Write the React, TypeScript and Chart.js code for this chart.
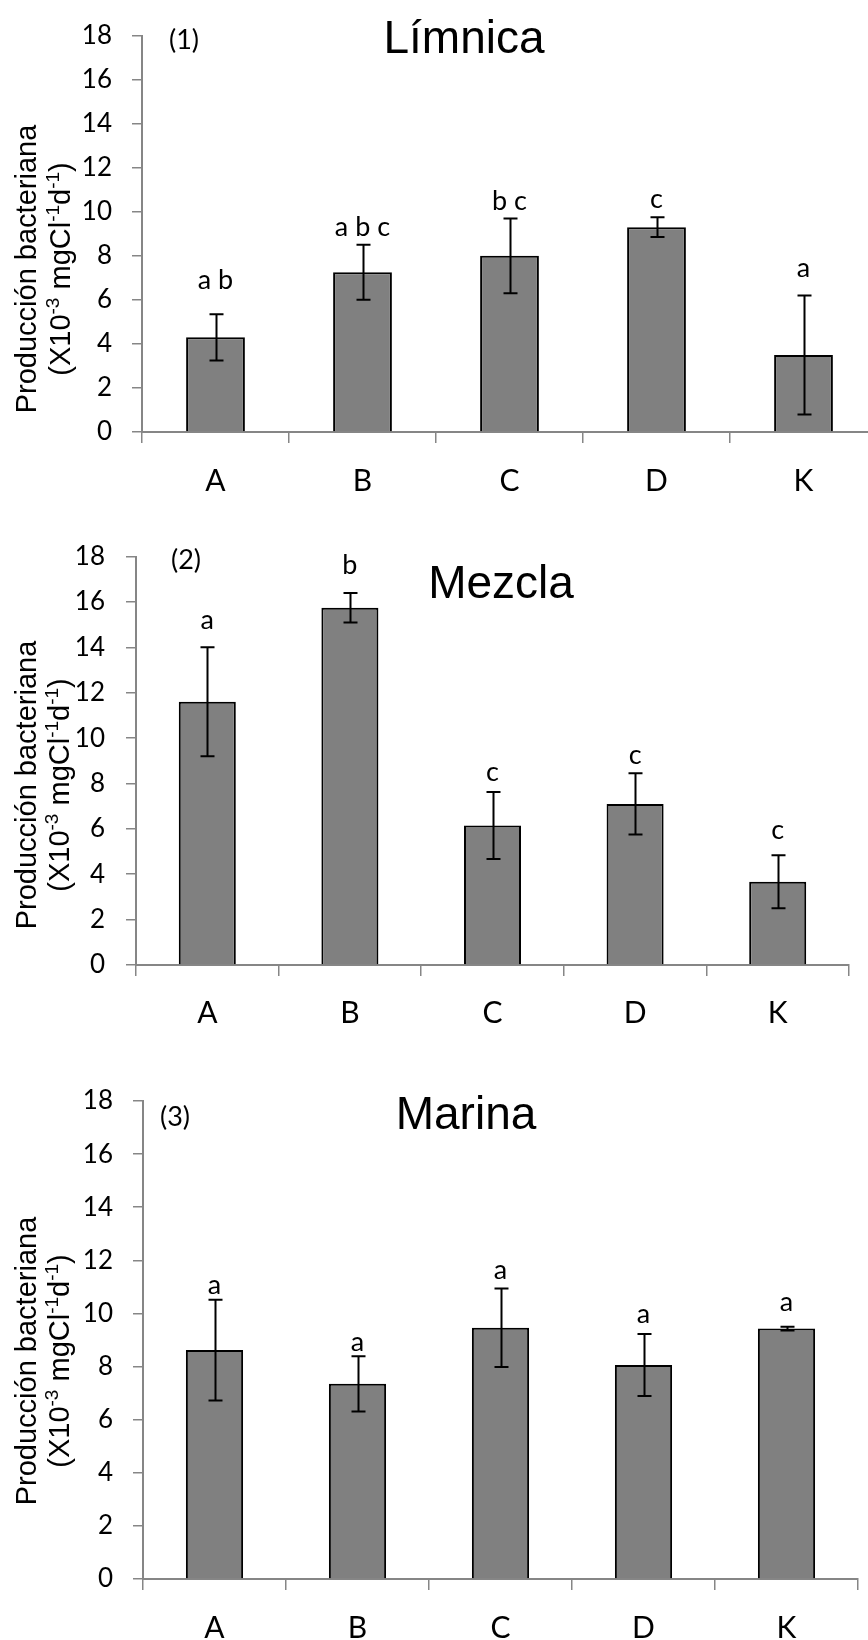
import { useEffect, useRef } from "react";
import { Chart, registerables } from "chart.js";

Chart.register(...registerables);

// ---- data ----
const categories = ["A", "B", "C", "D", "K"];
const yMin = 0;
const yMax = 18;
const yStep = 2;

const limnicaMeans = [4.3, 7.25, 8.0, 9.3, 3.5];
const limnicaErrors = [1.05, 1.25, 1.7, 0.45, 2.7];
const limnicaLetters = ["a b", "a b c", "b c", "c", "a"];
const limnicaLetterLevels = [6.5, 8.9, 10.1, 10.15, 7.05];

const mezclaMeans = [11.6, 15.75, 6.15, 7.1, 3.67];
const mezclaErrors = [2.4, 0.65, 1.48, 1.35, 1.17];
const mezclaLetters = ["a", "b", "c", "c", "c"];
const mezclaLetterLevels = [14.8, 17.25, 8.1, 8.85, 5.55];

const marinaMeans = [8.62, 7.35, 9.46, 8.06, 9.43];
const marinaErrors = [1.9, 1.04, 1.48, 1.17, 0.07];
const marinaLetters = ["a", "a", "a", "a", "a"];
const marinaLetterLevels = [10.75, 8.57, 11.3, 9.65, 10.1];

const yTitleMain = "Producción bacteriana";
const yTitleUnit: { t: string; sup?: boolean }[] = [
  { t: "(X10" },
  { t: "-3", sup: true },
  { t: " mgCl" },
  { t: "-1", sup: true },
  { t: "d" },
  { t: "-1", sup: true },
  { t: ")" },
];

// ---- styling ----
const AXIS_GRAY = "#868686";
const BAR_FILL = "#808080";
const TICK_FONT = "Lato";
const TITLE_FONT = "'Liberation Sans', Arial, sans-serif";

type PanelLayout = {
  canvasTop: number;
  canvasWidth: number;
  canvasHeight: number;
  plotLeft: number;
  plotTop: number;
  plotBottom: number;
  plotRight: number;
  titleX: number;
  titleBaseline: number;
  tagX: number;
  tagY: number;
  yTitleCenter: number;
  yTitleLine1: number;
  yTitleLine2: number;
  yTickPadding: number;
  xTickPadding: number;
};

type Panel = {
  tag: string;
  title: string;
  means: number[];
  errors: number[];
  letters: string[];
  letterLevels: number[];
  layout: PanelLayout;
};

const panels: Panel[] = [
  {
    tag: "(1)",
    title: "Límnica",
    means: limnicaMeans,
    errors: limnicaErrors,
    letters: limnicaLetters,
    letterLevels: limnicaLetterLevels,
    layout: {
      canvasTop: 0,
      canvasWidth: 880,
      canvasHeight: 520,
      plotLeft: 142,
      plotTop: 21,
      plotBottom: 432,
      plotRight: 877,
      titleX: 464,
      titleBaseline: 53,
      tagX: 169,
      tagY: 40,
      yTitleCenter: 269,
      yTitleLine1: 36,
      yTitleLine2: 70,
      yTickPadding: 20,
      xTickPadding: 20,
    },
  },
  {
    tag: "(2)",
    title: "Mezcla",
    means: mezclaMeans,
    errors: mezclaErrors,
    letters: mezclaLetters,
    letterLevels: mezclaLetterLevels,
    layout: {
      canvasTop: 520,
      canvasWidth: 868,
      canvasHeight: 540,
      plotLeft: 136,
      plotTop: 22,
      plotBottom: 445,
      plotRight: 849,
      titleX: 501,
      titleBaseline: 78,
      tagX: 171,
      tagY: 40,
      yTitleCenter: 265,
      yTitleLine1: 36,
      yTitleLine2: 69,
      yTickPadding: 21,
      xTickPadding: 19,
    },
  },
  {
    tag: "(3)",
    title: "Marina",
    means: marinaMeans,
    errors: marinaErrors,
    letters: marinaLetters,
    letterLevels: marinaLetterLevels,
    layout: {
      canvasTop: 1060,
      canvasWidth: 868,
      canvasHeight: 580,
      plotLeft: 143,
      plotTop: 41,
      plotBottom: 519,
      plotRight: 858,
      titleX: 466,
      titleBaseline: 69,
      tagX: 160,
      tagY: 57,
      yTitleCenter: 301,
      yTitleLine1: 36,
      yTitleLine2: 69,
      yTickPadding: 20,
      xTickPadding: 20,
    },
  },
];

function makeDecorations(panel: Panel) {
  return {
    id: "panelDecorations",
    afterDatasetsDraw(chart: any) {
      const { ctx } = chart;
      const y = chart.scales.y;
      const meta = chart.getDatasetMeta(0);
      ctx.save();
      // error bars
      ctx.strokeStyle = "#000";
      ctx.lineWidth = 2;
      meta.data.forEach((bar: any, i: number) => {
        const x = Math.round(bar.x) + 0.5;
        const top = y.getPixelForValue(panel.means[i] + panel.errors[i]);
        const bot = y.getPixelForValue(panel.means[i] - panel.errors[i]);
        ctx.beginPath();
        ctx.moveTo(x, top);
        ctx.lineTo(x, bot);
        ctx.moveTo(x - 7, top);
        ctx.lineTo(x + 7, top);
        ctx.moveTo(x - 7, bot);
        ctx.lineTo(x + 7, bot);
        ctx.stroke();
      });
      // significance letters
      ctx.fillStyle = "#000";
      ctx.font = `27px ${TICK_FONT}`;
      ctx.textAlign = "center";
      ctx.textBaseline = "alphabetic";
      meta.data.forEach((bar: any, i: number) => {
        ctx.fillText(panel.letters[i], bar.x, y.getPixelForValue(panel.letterLevels[i]));
      });
      ctx.restore();
    },
    afterDraw(chart: any) {
      const { ctx } = chart;
      const L = panel.layout;
      ctx.save();
      ctx.fillStyle = "#000";
      // panel title
      ctx.font = `46px ${TITLE_FONT}`;
      ctx.textAlign = "center";
      ctx.textBaseline = "alphabetic";
      ctx.fillText(panel.title, L.titleX, L.titleBaseline);
      // panel tag
      ctx.font = `27px ${TICK_FONT}`;
      ctx.textAlign = "left";
      ctx.textBaseline = "middle";
      ctx.fillText(panel.tag, L.tagX, L.tagY);
      // rotated y-axis title
      ctx.textBaseline = "alphabetic";
      ctx.textAlign = "left";
      const mainFont = `29px ${TITLE_FONT}`;
      const supFont = `19px ${TITLE_FONT}`;
      // line 1
      ctx.save();
      ctx.translate(L.yTitleLine1, L.yTitleCenter);
      ctx.rotate(-Math.PI / 2);
      ctx.font = mainFont;
      const w1 = ctx.measureText(yTitleMain).width;
      ctx.fillText(yTitleMain, -w1 / 2, 0);
      ctx.restore();
      // line 2 with superscripts
      ctx.save();
      ctx.translate(L.yTitleLine2, L.yTitleCenter);
      ctx.rotate(-Math.PI / 2);
      let total = 0;
      yTitleUnit.forEach((seg) => {
        ctx.font = seg.sup ? supFont : mainFont;
        total += ctx.measureText(seg.t).width;
      });
      let cx = -total / 2;
      yTitleUnit.forEach((seg) => {
        ctx.font = seg.sup ? supFont : mainFont;
        ctx.fillText(seg.t, cx, seg.sup ? -11 : 0);
        cx += ctx.measureText(seg.t).width;
      });
      ctx.restore();
      ctx.restore();
    },
  };
}

function PanelChart({ panel }: { panel: Panel }) {
  const ref = useRef<HTMLCanvasElement | null>(null);
  const L = panel.layout;

  useEffect(() => {
    if (!ref.current) return;
    const chart = new Chart(ref.current, {
      type: "bar",
      data: {
        labels: categories,
        datasets: [
          {
            data: panel.means,
            backgroundColor: BAR_FILL,
            borderColor: "#000",
            borderWidth: 2,
            barPercentage: 0.4,
            categoryPercentage: 1,
          },
        ],
      },
      options: {
        responsive: false,
        animation: false,
        events: [],
        layout: {
          padding: {
            top: L.plotTop,
            left: 0,
            bottom: 0,
            right: L.canvasWidth - L.plotRight,
          },
        },
        plugins: {
          legend: { display: false },
          tooltip: { enabled: false },
          title: { display: false },
        },
        scales: {
          x: {
            type: "category",
            offset: true,
            grid: {
              offset: true,
              drawOnChartArea: false,
              drawTicks: true,
              tickLength: 11,
              color: AXIS_GRAY,
              lineWidth: 1.5,
            },
            border: { display: true, color: AXIS_GRAY, width: 2 },
            ticks: {
              color: "#000",
              font: { family: TICK_FONT, size: 30 },
              padding: L.xTickPadding,
              maxRotation: 0,
            },
            afterFit: (s: any) => {
              s.height = L.canvasHeight - L.plotBottom;
            },
          },
          y: {
            min: yMin,
            max: yMax,
            grid: {
              drawOnChartArea: false,
              drawTicks: true,
              tickLength: 10,
              color: AXIS_GRAY,
              lineWidth: 1.5,
            },
            border: { display: true, color: AXIS_GRAY, width: 2 },
            ticks: {
              stepSize: yStep,
              color: "#000",
              font: { family: TICK_FONT, size: 26 },
              padding: L.yTickPadding,
            },
            afterFit: (s: any) => {
              s.width = L.plotLeft;
            },
          },
        },
      },
      plugins: [makeDecorations(panel)],
    });
    return () => chart.destroy();
  }, [panel]);

  return (
    <canvas
      ref={ref}
      width={L.canvasWidth}
      height={L.canvasHeight}
      style={{
        position: "absolute",
        left: 0,
        top: L.canvasTop,
        width: L.canvasWidth,
        height: L.canvasHeight,
        display: "block",
      }}
    />
  );
}

export default function App() {
  return (
    <div
      style={{
        position: "absolute",
        left: 0,
        top: 0,
        width: 868,
        height: 1640,
        overflow: "hidden",
        background: "#fff",
      }}
    >
      {panels.map((p) => (
        <PanelChart key={p.tag} panel={p} />
      ))}
    </div>
  );
}
